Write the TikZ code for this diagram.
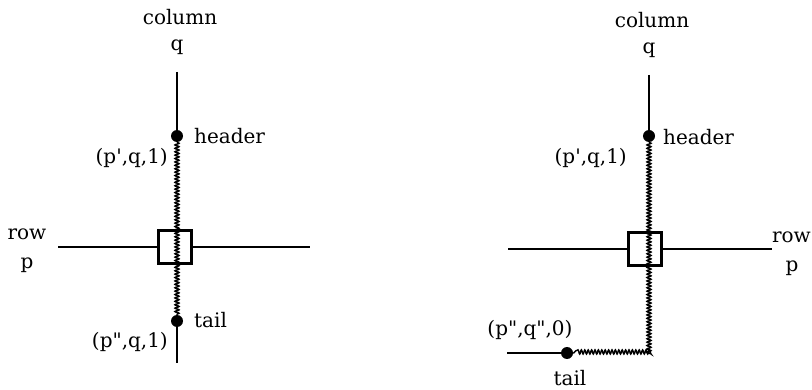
\documentclass[tikz,border=0pt]{standalone}
\usepackage{fontspec}
\setmainfont{DejaVu Serif}[Ligatures=TeXOff]
\usetikzlibrary{decorations.pathmorphing}
\tikzset{
  dot/.style={circle, fill=black, inner sep=0pt, minimum size=12pt},
  cell/.style={draw, line width=2.2pt, fill=white, minimum size=33pt, inner sep=0pt},
  wire/.style={line width=1.8pt},
  chain/.style={line width=1.4pt, decorate, decoration={snake, segment length=3.4pt, amplitude=2.1pt}},
  lbl/.style={font=\fontsize{20}{22}\selectfont, inner sep=1pt}
}
\begin{document}
\begin{tikzpicture}[x=1pt, y=-1pt]
    \useasboundingbox (0,0) rectangle (812,390);
    % Izquierda: columna q, fila p
    \node[lbl] (colA) at (180,17) {column};
    \node[lbl] (qA) at (177,47) {q};
    \coordinate (topA) at (177,72);
    \coordinate (botA) at (177,363);
    \coordinate (rowAw) at (58,247);
    \coordinate (rowAe) at (310,247);
    \node[lbl] (rowA) at (27,234) {row};
    \node[lbl] (pA) at (27,265) {p};
    \node[cell] (boxA) at (175,247) {};
    \draw[wire] (rowAw) -- (boxA.west);
    \draw[wire] (boxA.east) -- (rowAe);
    \node[dot] (hdA) at (177,136) {};
    \node[dot] (tlA) at (177,321) {};
    \draw[wire] (topA) -- (hdA);
    \draw[wire] (tlA) -- (botA);
    \draw[chain] (hdA) -- (tlA);
    \node[lbl, anchor=west] (hdAl) at (193,136) {header};
    \node[lbl, anchor=east] (pqA) at (169,158) {(p',q,1)};
    \node[lbl, anchor=west] (tlAl) at (193,320) {tail};
    \node[lbl, anchor=east] (ppA) at (169,342) {(p",q,1)};
    % Derecha: la cola pasa a otra columna
    \node[lbl] (colB) at (652,20) {column};
    \node[lbl] (qB) at (649,50) {q};
    \coordinate (topB) at (649,75);
    \coordinate (cornB) at (649,353);
    \coordinate (rowBw) at (508,249);
    \coordinate (rowBe) at (772,249);
    \coordinate (endB) at (507,353);
    \node[lbl, anchor=east] (rowB) at (812,237) {row};
    \node[lbl] (pB) at (792,268) {p};
    \node[cell] (boxB) at (645,249) {};
    \draw[wire] (rowBw) -- (boxB.west);
    \draw[wire] (boxB.east) -- (rowBe);
    \node[dot] (hdB) at (649,136) {};
    \node[dot] (tlB) at (567,353) {};
    \draw[wire] (topB) -- (hdB);
    \draw[wire] (endB) -- (tlB);
    \draw[chain] (hdB) -- (cornB) -- (tlB);
    \node[lbl, anchor=west] (hdBl) at (662,137) {header};
    \node[lbl, anchor=east] (pqB) at (628,158) {(p',q,1)};
    \node[lbl] (ppB) at (530,330) {(p",q",0)};
    \node[lbl] (tlBl) at (570,378) {tail};
\end{tikzpicture}
\end{document}
